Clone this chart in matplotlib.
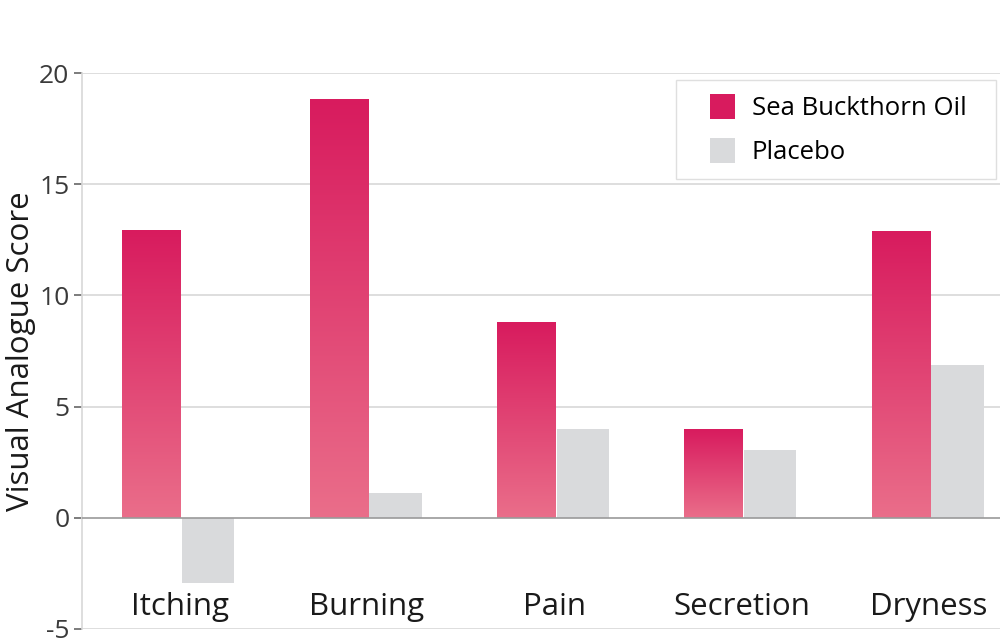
import matplotlib.pyplot as plt
import numpy as np
from matplotlib.colors import LinearSegmentedColormap
from matplotlib.patches import Patch, Rectangle
from matplotlib.legend_handler import HandlerPatch

plt.rcParams['font.family'] = ['Open Sans', 'DejaVu Sans']
plt.rcParams['axes.unicode_minus'] = False

categories = ['Itching', 'Burning', 'Pain', 'Secretion', 'Dryness']
sea_buckthorn = [12.95, 18.8, 8.8, 4.0, 12.9]
placebo = [-2.95, 1.1, 4.0, 3.05, 6.85]
series_names = ['Sea Buckthorn Oil', 'Placebo']

pink_top = '#d81b5e'
pink_bottom = '#ea6e8a'
grey = '#d9dadc'

fig = plt.figure(figsize=(10, 6.44), dpi=100)
ax = fig.add_axes([0.082, 0.0233, 0.918, 0.8633])

x = np.arange(len(categories))
w_pink = 0.315
w_grey = 0.28

# gradient for the oil bars (dark on top, light at bottom)
grad = np.linspace(0, 1, 256).reshape(-1, 1)
cmap = LinearSegmentedColormap.from_list('pk', [pink_top, pink_bottom])

for i, v in enumerate(sea_buckthorn):
    ax.imshow(grad, cmap=cmap, aspect='auto', extent=(x[i] - w_pink, x[i], 0, v),
              origin='upper', zorder=3, interpolation='bicubic')

ax.bar(x + w_grey / 2 + 0.003, placebo, w_grey, color=grey, zorder=3)

ax.set_xlim(-0.531, 4.371)
ax.set_ylim(-5, 20)
ax.set_yticks([-5, 0, 5, 10, 15, 20])
ax.set_xticks([])

for yv in [-5, 5, 10, 15, 20]:
    ax.axhline(yv, color='#d8d8d8', lw=1.2, zorder=1)
ax.axhline(0, color='#9a9a9a', lw=1.2, zorder=4)

for s in ['top', 'right', 'bottom']:
    ax.spines[s].set_visible(False)
ax.spines['left'].set_color('#d8d8d8')
ax.spines['left'].set_linewidth(1.2)
ax.tick_params(axis='y', length=6, width=1.2, color='#666666', labelsize=19,
               labelcolor='#3a3a3a', pad=3)

for i, c in enumerate(categories):
    ax.text(x[i] - 0.01, -4.36, c, ha='center', va='baseline', fontsize=22.5, color='#1a1a1a')

ax.set_ylabel('Visual Analogue Score', fontsize=22.5, color='#1a1a1a')
ax.yaxis.set_label_coords(-0.05, 0.5)


def square_right(legend, orig_handle, xdescent, ydescent, width, height, fontsize):
    # square handle pushed to the right end of the handle slot
    return Rectangle((width - height - xdescent, -ydescent), height, height)


handles = [Patch(facecolor=pink_top), Patch(facecolor=grey)]
leg = ax.legend(handles, series_names, loc='upper left',
                bbox_to_anchor=((676 - 82) / 918, 0, (996 - 676) / 918, 0.9874),
                mode='expand', fontsize=18.5, frameon=True, fancybox=False,
                handlelength=1.75, handleheight=1.1, handletextpad=0.65,
                borderpad=0.55, labelspacing=0.66, borderaxespad=0.0,
                handler_map={Patch: HandlerPatch(patch_func=square_right)})
leg.get_frame().set_edgecolor('#d8d8d8')
leg.get_frame().set_linewidth(1.0)
leg.set_zorder(5)

fig.savefig('out.png', dpi=100)
